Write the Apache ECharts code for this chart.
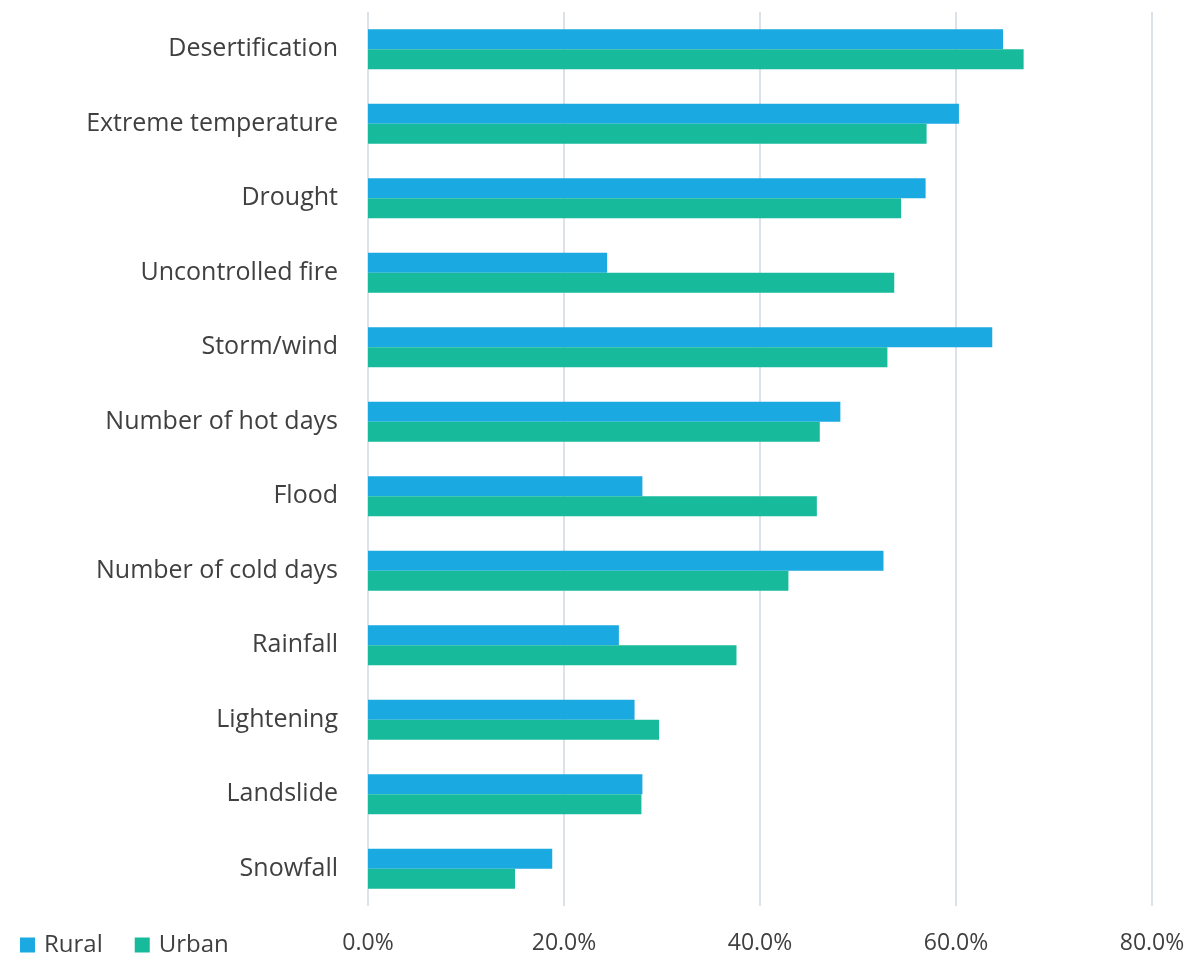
<!DOCTYPE html>
<html>
<head>
<meta charset="utf-8">
<script src="https://cdn.jsdelivr.net/npm/echarts@6/dist/echarts.min.js"></script>
<style>
  html, body { margin: 0; padding: 0; background: #fff; }
  #chart { width: 1191px; height: 964px; }
</style>
</head>
<body>
<div id="chart"></div>
<script>
// categories top to bottom
var categories = ['Desertification', 'Extreme temperature', 'Drought', 'Uncontrolled fire',
  'Storm/wind', 'Number of hot days', 'Flood', 'Number of cold days', 'Rainfall',
  'Lightening', 'Landslide', 'Snowfall'];
// percent values
var rural = [64.8, 60.3, 56.9, 24.4, 63.7, 48.2, 28.0, 52.6, 25.6, 27.2, 28.0, 18.8];
var urban = [66.9, 57.0, 54.4, 53.7, 53.0, 46.1, 45.8, 42.9, 37.6, 29.7, 27.9, 15.0];
var xTicks = [0, 20, 40, 60, 80];

var colors = ['#1aa9e0', '#17ba9b'];
var chart = echarts.init(document.getElementById('chart'));

var option = {
  backgroundColor: '#fff',
  color: colors,
  animation: false,
  textStyle: { fontFamily: '"Open Sans", "DejaVu Sans", sans-serif' },
  legend: {
    left: 15,
    bottom: 2,
    itemWidth: 15,
    itemHeight: 15,
    itemGap: 32,
    icon: 'rect',
    textStyle: { fontSize: 24, color: '#404040', padding: [0, 0, 0, 4] },
    data: ['Rural', 'Urban']
  },
  grid: { left: 368, right: 39, top: 12, bottom: 58 },
  xAxis: {
    type: 'value',
    min: xTicks[0],
    max: xTicks[xTicks.length - 1],
    interval: 20,
    axisLine: { show: false },
    axisTick: { show: false },
    splitLine: { lineStyle: { color: '#dde1ea', width: 2 } },
    axisLabel: {
      fontSize: 23,
      color: '#404040',
      margin: 26,
      formatter: function (v) { return v.toFixed(1) + '%'; }
    }
  },
  yAxis: {
    type: 'category',
    inverse: true,
    data: categories,
    axisLine: { show: false },
    axisTick: { show: false },
    axisLabel: { fontSize: 25, color: '#404040', margin: 30 }
  },
  series: [{
    name: 'Rural',
    type: 'bar',
    data: rural,
    barWidth: 20,
    barGap: '0%'
  }, {
    name: 'Urban',
    type: 'bar',
    data: urban,
    barWidth: 20,
    barGap: '0%'
  }]
};

chart.setOption(option);
</script>
</body>
</html>
